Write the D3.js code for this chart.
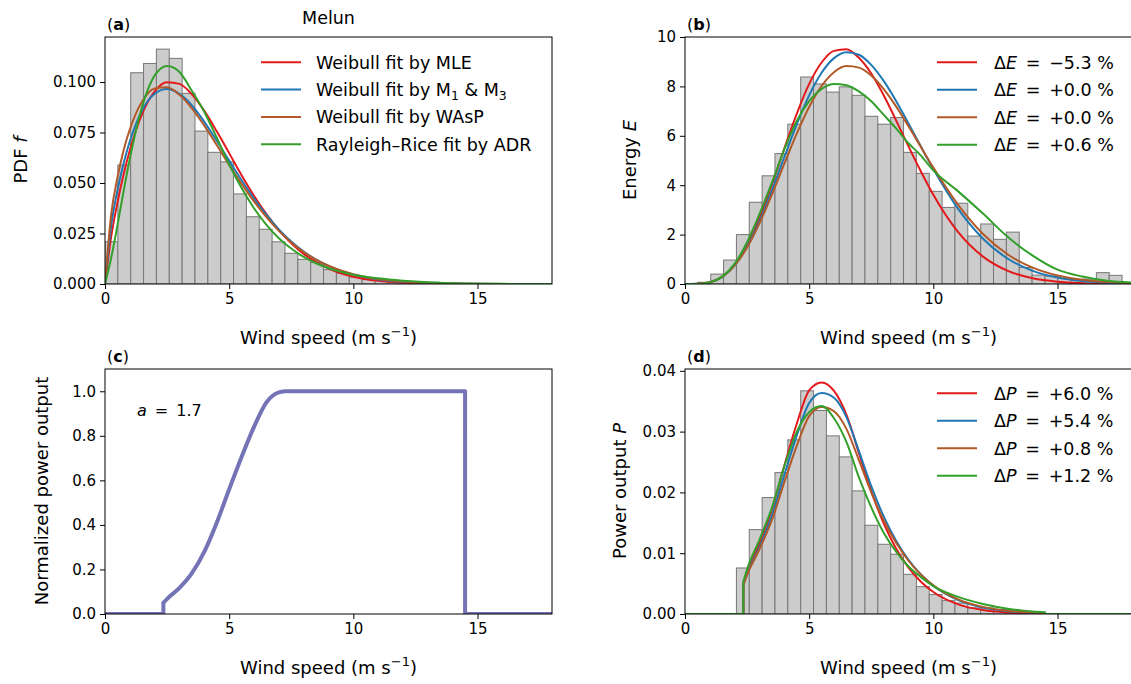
<!DOCTYPE html>
<html><head><meta charset="utf-8">
<script src="https://cdn.jsdelivr.net/npm/d3@7"></script>
<style>
body{margin:0;background:#fff;}
text{font-family:"DejaVu Sans",sans-serif;fill:#000;}
</style></head><body>
<svg id="chart" width="1131" height="684"></svg>
<script>
// ---------- data ----------
const xTicks = [0, 5, 10, 15];
const nBins = 34, vMax = 17.6;           // histogram: 34 bins from 0 to 17.6 m/s
const histPDF = [0.0209,0.0589,0.1046,0.1092,0.1163,0.1117,0.0944,0.0757,0.0652,0.0605,0.0446,0.0333,0.0271,0.0209,0.0152,0.0122,0.0106,0.0071,0.0053,0.0035,0.0025,0.0023,0.0012,0.0013,0.00085,0.00088,0.00025,0.00012,0.0001,0.00007,0.00005,0.00005,0.00009,0.00007];
const histE = [0,0.07,0.4,0.97,2.0,3.31,4.38,5.28,6.47,8.38,8.1,7.77,7.98,7.64,6.79,6.47,6.74,5.33,4.48,3.75,3.1,3.27,1.94,2.43,1.81,2.1,0.67,0.36,0.32,0.24,0.19,0.2,0.46,0.35];
const histP = [0,0,0,0,0.00757,0.01388,0.01915,0.02326,0.02864,0.03671,0.03347,0.0293,0.02584,0.02025,0.0146,0.01147,0.00983,0.00653,0.0045,0.0032,0.0022,0.0018,0.0010,0.0010,0.0007,0.0007,0.00022,0.0001,0,0,0,0,0,0];

const vGrid = [0,0.25,0.5,0.75,1,1.5,2,2.5,3,3.5,4,4.5,5,5.5,6,6.5,7,7.5,8,8.5,9,9.5,10,11,12,13,14,15,16,17,18];
const pdfMLE  = [0,0.02345,0.0402,0.0543,0.0662,0.0844,0.0954,0.0999,0.0991,0.0939,0.0857,0.0756,0.0648,0.0539,0.0437,0.0346,0.0267,0.0202,0.01492,0.01079,0.00764,0.00531,0.00361,0.001576,0.000641,0.000242,0.000085,0.0000278,0.0000085,0.0000025,0.0000007];
const pdfM13  = [0,0.0290,0.04627,0.0598,0.0707,0.0861,0.0942,0.0965,0.0941,0.0884,0.0803,0.0709,0.0611,0.0514,0.04234,0.03417,0.02706,0.02103,0.01606,0.01207,0.00892,0.00649,0.004654,0.002284,0.001061,0.000465,0.000194,0.0000766,0.0000289,0.0000103,0.0000035];
const pdfWAsP = [0,0.0345,0.0526,0.0662,0.0766,0.0905,0.0968,0.0974,0.0937,0.0870,0.0784,0.0688,0.0590,0.0496,0.0409,0.0331,0.0263,0.0206,0.01587,0.01206,0.00902,0.00666,0.00485,0.00248,0.00121,0.00056,0.000248,0.000105,0.0000428,0.0000167,0.0000063];
const pdfADR  = [0,0.013,0.029,0.046,0.062,0.088,0.1033,0.1080,0.1050,0.0956,0.0852,0.0724,0.0592,0.0475,0.0375,0.0293,0.0227,0.01754,0.01338,0.01026,0.00782,0.00607,0.0046,0.00282,0.00165,0.000865,0.000419,0.000172,0.000073,0.000027,0.00001];

const eMLE  = [0,0.00037,0.00503,0.0229,0.0662,0.2849,0.763,1.561,2.676,4.026,5.485,6.889,8.1,8.968,9.439,9.502,9.158,8.522,7.639,6.626,5.570,4.553,3.61,2.098,1.108,0.532,0.233,0.094,0.035,0.012,0.0038];
const eM13  = [0,0.00045,0.00578,0.0252,0.0707,0.2906,0.754,1.508,2.541,3.790,5.139,6.461,7.638,8.552,9.145,9.384,9.282,8.872,8.223,7.413,6.503,5.564,4.654,3.040,1.833,1.022,0.532,0.259,0.118,0.051,0.020];
const eWAsP = [0,0.00052,0.0064,0.0271,0.0744,0.2967,0.752,1.478,2.457,3.623,4.870,6.087,7.163,8.016,8.575,8.821,8.760,8.438,7.890,7.191,6.386,5.544,4.712,3.204,2.024,1.193,0.661,0.344,0.170,0.080,0.036];
const eADR  = [0,0.0002,0.0036,0.0194,0.062,0.297,0.826,1.688,2.835,4.1,5.45,6.6,7.4,7.9,8.1,8.05,7.8,7.4,6.85,6.3,5.7,5.2,4.6,3.75,2.85,1.9,1.15,0.58,0.3,0.13,0.06];

// power curve (panel c), a = 1.7
const pcV = [0,2.35,2.35,2.5,3,3.5,4,4.5,5,5.5,6,6.5,7,7.3,14.5,14.5,18];
const pcP = [0,0,0.05,0.068,0.117,0.183,0.28,0.41,0.56,0.705,0.84,0.95,0.995,1.0,1.0,0,0];

// power output (panel d)
const pGrid = [0,2.35,2.35,2.5,3,3.5,4,4.5,5,5.5,6,6.5,7,7.5,8,8.5,9,9.5,10,11,12,13,14,14.5,14.5,18];
const pMLE  = [0,0,0.00494,0.00679,0.0116,0.01718,0.02442,0.0313,0.0368,0.0381,0.0367,0.0328,0.0265,0.0202,0.01492,0.01079,0.00764,0.00531,0.00361,0.00158,0.00064,0.00024,0.00009,0.00005,0,0];
const pM13  = [0,0,0.00481,0.00656,0.0110,0.01618,0.02289,0.02935,0.0347,0.03634,0.03557,0.03239,0.02684,0.02103,0.01606,0.01207,0.00892,0.00649,0.00465,0.00228,0.00106,0.000465,0.000194,0.00012,0,0];
const pWAsP = [0,0,0.00472,0.00643,0.01065,0.01546,0.02169,0.02766,0.03255,0.03406,0.03335,0.03045,0.02534,0.0200,0.01541,0.01171,0.00876,0.00647,0.00471,0.00241,0.00117,0.00054,0.00024,0.00016,0,0];
const pADR  = [0,0,0.00538,0.00736,0.01223,0.0175,0.02428,0.02997,0.0332,0.0342,0.0322,0.0283,0.02252,0.01754,0.01338,0.01026,0.00782,0.00607,0.0046,0.00282,0.00165,0.000865,0.000419,0.0003,0,0];

const fitColors = ["#e31a1c","#1f78b4","#b15928","#33a02c"];
const legendA = ["Weibull fit by MLE","Weibull fit by M1 & M3","Weibull fit by WAsP","Rayleigh–Rice fit by ADR"];
const deltaE = ["−5.3","+0.0","+0.0","+0.6"];
const deltaP = ["+6.0","+5.4","+0.8","+1.2"];

// ---------- drawing ----------
const FT = 15, FL = 18, FG = 17.5;   // tick, label, legend font sizes
const svg = d3.select("#chart");
const W = 447;
const P = {
  a:{left:105, top:37,  h:247, y:[0,0.1223], ticks:[0,0.025,0.05,0.075,0.1], fmt:d3.format(".3f")},
  b:{left:685, top:37,  h:247, y:[0,10],     ticks:[0,2,4,6,8,10], fmt:d3.format("d")},
  c:{left:105, top:369, h:245, y:[0,1.1],    ticks:[0,0.2,0.4,0.6,0.8,1.0], fmt:d3.format(".1f")},
  d:{left:685, top:369, h:245, y:[0,0.0403], ticks:[0,0.01,0.02,0.03,0.04], fmt:d3.format(".2f")}
};
let clipId = 0;
function setup(p, tag){
  const x = d3.scaleLinear([0,18],[p.left,p.left+W]);
  const y = d3.scaleLinear(p.y,[p.top+p.h,p.top]);
  const id = "clip"+(clipId++);
  svg.append("clipPath").attr("id",id).append("rect")
    .attr("x",p.left).attr("y",p.top).attr("width",W).attr("height",p.h);
  const g = svg.append("g");
  const plot = g.append("g").attr("clip-path",`url(#${id})`);
  const ax = g.append("g").attr("transform",`translate(0,${p.top+p.h})`)
    .call(d3.axisBottom(x).tickValues(xTicks).tickSize(5).tickPadding(4).tickFormat(d3.format("d")));
  const ay = g.append("g").attr("transform",`translate(${p.left},0)`)
    .call(d3.axisLeft(y).tickValues(p.ticks).tickSize(5).tickPadding(4).tickFormat(p.fmt));
  [ax,ay].forEach(a=>{a.select(".domain").remove();
    a.selectAll(".tick line").attr("stroke","#000").attr("stroke-width",1);
    a.selectAll("text").attr("font-size",FT).attr("font-family","DejaVu Sans").attr("fill","#000");});
  g.append("rect").attr("x",p.left).attr("y",p.top).attr("width",W).attr("height",p.h)
    .attr("fill","none").attr("stroke","#000").attr("stroke-width",1);
  g.append("text").attr("x",p.left+2).attr("y",p.top-7).attr("font-size",16)
    .call(t=>{t.append("tspan").text("(");t.append("tspan").attr("font-weight","bold").text(tag);t.append("tspan").text(")");});
  // x label
  const xl = g.append("text").attr("x",p.left+W/2).attr("y",p.top+p.h+60).attr("text-anchor","middle").attr("font-size",FL);
  xl.append("tspan").text("Wind speed (m s");
  xl.append("tspan").attr("dy",-8).attr("font-size",13).text("−1");
  xl.append("tspan").attr("dy",8).text(")");
  return {x,y,plot,g};
}
function bars(ctx, data){
  const bw = vMax/nBins;
  ctx.plot.selectAll(null).data(data.map((h,i)=>({i,h})).filter(d=>d.h>0)).enter().append("rect")
    .attr("x",d=>ctx.x(d.i*bw)).attr("width",d=>ctx.x((d.i+1)*bw)-ctx.x(d.i*bw))
    .attr("y",d=>ctx.y(d.h)).attr("height",d=>ctx.y(0)-ctx.y(d.h))
    .attr("fill","#cccccc").attr("stroke","#777777").attr("stroke-width",1);
}
// draw series split at repeated x values (vertical jumps) as one path
function seriesPath(ctx, xs, ys){
  const pts = xs.map((v,i)=>[v,ys[i]]);
  const pieces=[]; let cur=[pts[0]];
  for(let i=1;i<pts.length;i++){
    if(pts[i][0]===pts[i-1][0]){ pieces.push(cur); cur=[pts[i-1],pts[i]]; pieces.push(cur); cur=[pts[i]]; }
    else cur.push(pts[i]);
  }
  pieces.push(cur);
  const line = d3.line().x(d=>ctx.x(d[0])).y(d=>ctx.y(d[1]));
  let dstr="";
  pieces.filter(p=>p.length>1).forEach((p,k)=>{
    const s = line.curve(p.length>2?d3.curveMonotoneX:d3.curveLinear)(p);
    dstr += (k===0? s : s.replace(/^M/,"L"));
  });
  return dstr;
}
function curve(ctx, xs, ys, color, w){
  ctx.plot.append("path").attr("d",seriesPath(ctx,xs,ys)).attr("fill","none")
    .attr("stroke",color).attr("stroke-width",w||2).attr("stroke-linejoin","round");
}
function ylabel(x, yc, build){
  const t = svg.append("text").attr("transform",`translate(${x},${yc}) rotate(-90)`)
    .attr("text-anchor","middle").attr("font-size",FL);
  build(t);
}

// Panel a
const A = setup(P.a,"a");
bars(A, histPDF);
[pdfMLE,pdfM13,pdfWAsP,pdfADR].forEach((s,i)=>curve(A,vGrid,s,fitColors[i]));
svg.append("text").attr("x",P.a.left+W/2).attr("y",24).attr("text-anchor","middle").attr("font-size",17.5).text("Melun");
ylabel(27,160,t=>{t.append("tspan").text("PDF ");t.append("tspan").attr("font-style","italic").text("f");});
legendA.forEach((s,i)=>{
  const yy = 62.3 + i*27.3;
  svg.append("line").attr("x1",261).attr("x2",301).attr("y1",yy).attr("y2",yy).attr("stroke",fitColors[i]).attr("stroke-width",2);
  const t = svg.append("text").attr("x",316).attr("y",yy+6.5).attr("font-size",FG);
  if(s.includes("M1")){
    t.append("tspan").text("Weibull fit by M");
    t.append("tspan").attr("dy",4).attr("font-size",12.5).text("1");
    t.append("tspan").attr("dy",-4).text(" & M");
    t.append("tspan").attr("dy",4).attr("font-size",12.5).text("3");
  } else t.text(s);
});

// Panel b
const B = setup(P.b,"b");
bars(B, histE);
[eMLE,eM13,eWAsP,eADR].forEach((s,i)=>curve(B,vGrid,s,fitColors[i]));
ylabel(636,160,t=>{t.append("tspan").text("Energy ");t.append("tspan").attr("font-style","italic").text("E");});
function deltaLegend(y0, sym, vals){
  vals.forEach((s,i)=>{
    const yy = y0 + i*27.5;
    svg.append("line").attr("x1",937).attr("x2",977).attr("y1",yy).attr("y2",yy).attr("stroke",fitColors[i]).attr("stroke-width",2);
    const t = svg.append("text").attr("x",994).attr("y",yy+6.5).attr("font-size",FG);
    t.append("tspan").text("Δ");
    t.append("tspan").attr("font-style","italic").text(sym);
    t.append("tspan").text("\u2002=\u2002"+s+" %");
  });
}
deltaLegend(62.3,"E",deltaE);

// Panel c
const C = setup(P.c,"c");
curve(C, pcV, pcP, "#7473b6", 4);
ylabel(48,491,t=>t.text("Normalized power output"));
svg.append("text").attr("x",137).attr("y",416).attr("font-size",16)
  .call(t=>{t.append("tspan").attr("font-style","italic").text("a");t.append("tspan").text("\u2002=\u20021.7");});

// Panel d
const D = setup(P.d,"d");
bars(D, histP);
[pMLE,pM13,pWAsP,pADR].forEach((s,i)=>curve(D,pGrid,s,fitColors[i]));
ylabel(626,491,t=>{t.append("tspan").text("Power output ");t.append("tspan").attr("font-style","italic").text("P");});
deltaLegend(393.3,"P",deltaP);
</script></body></html>
